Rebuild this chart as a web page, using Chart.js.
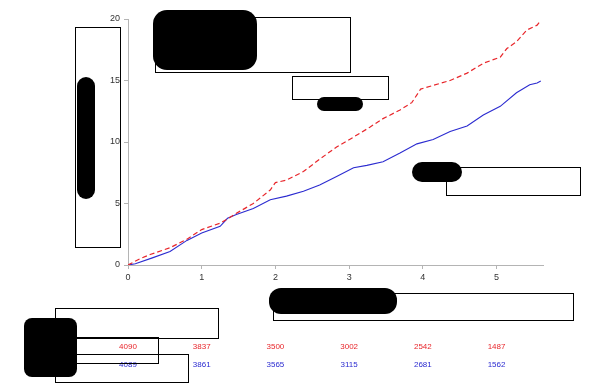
<!DOCTYPE html>
<html>
<head>
<meta charset="utf-8">
<script src="https://cdn.jsdelivr.net/npm/chart.js"></script>
<style>
  html, body { margin: 0; padding: 0; background: #fff; }
  #wrap { width: 609px; height: 390px; position: relative; }
</style>
</head>
<body>
<div id="wrap"><canvas id="chart" width="609" height="390"></canvas></div>
<script>
// == Data ==
const redTime = [0, 0.16, 0.3, 0.57, 0.8, 1.0, 1.25, 1.35, 1.47, 1.7, 1.93, 2.0, 2.15, 2.38, 2.6, 2.83, 3.06, 3.28, 3.46, 3.69, 3.85, 3.97, 4.14, 4.37, 4.6, 4.82, 5.05, 5.14, 5.27, 5.41, 5.55, 5.59];
const redRisk = [0, 0.5, 0.85, 1.4, 2.1, 2.88, 3.4, 3.75, 4.2, 5.0, 6.1, 6.7, 6.9, 7.6, 8.6, 9.6, 10.4, 11.2, 11.9, 12.6, 13.2, 14.3, 14.6, 15.0, 15.6, 16.4, 16.9, 17.6, 18.15, 19.1, 19.5, 19.8];
const blueTime = [0, 0.1, 0.34, 0.57, 0.8, 1.0, 1.25, 1.35, 1.47, 1.7, 1.93, 2.15, 2.38, 2.6, 2.83, 3.06, 3.24, 3.46, 3.69, 3.92, 4.14, 4.37, 4.6, 4.82, 5.05, 5.27, 5.45, 5.55, 5.6];
const blueRisk = [0, 0.1, 0.6, 1.1, 2.0, 2.6, 3.15, 3.8, 4.1, 4.6, 5.3, 5.6, 6.0, 6.5, 7.2, 7.9, 8.1, 8.4, 9.1, 9.85, 10.2, 10.85, 11.3, 12.2, 12.9, 14.0, 14.65, 14.8, 14.95];
const xTicks = [0, 1, 2, 3, 4, 5];
const yTicks = [0, 5, 10, 15, 20];
const redAtRisk = [4090, 3837, 3500, 3002, 2542, 1487];
const blueAtRisk = [4089, 3861, 3565, 3115, 2681, 1562];

// == Colours ==
const RED = "#e8262b";
const BLUE = "#2b2bd0";
const AXIS = "#b4b4b4";

// == Overlay: redaction boxes and blobs ==
const outlineBoxes = [
  [75, 27, 45, 220], [155, 17, 195, 55], [292, 76, 96, 23], [446, 167, 134, 28],
  [273, 293, 300, 27], [55, 308, 163, 30], [60, 337, 98, 26], [55, 354, 133, 28]
];
const blobs = [
  [153, 10, 104, 60, 14], [317, 97, 46, 14, 7], [77, 77, 18, 122, 9],
  [269, 288, 128, 26, 12], [24, 318, 53, 59, 8], [412, 162, 50, 20, 10]
];

const overlayPlugin = {
  id: "overlay",
  afterDraw(chart) {
    const ctx = chart.ctx;
    const x = chart.scales.x;
    ctx.save();
    // numbers at risk
    ctx.font = "8px 'Liberation Sans', Arial, sans-serif";
    ctx.textAlign = "center";
    ctx.textBaseline = "middle";
    xTicks.forEach((t, i) => {
      const px = x.getPixelForValue(t);
      ctx.fillStyle = RED;
      ctx.fillText(redAtRisk[i], px, 347);
      ctx.fillStyle = BLUE;
      ctx.fillText(blueAtRisk[i], px, 365);
    });
    ctx.fillStyle = "#000";
    blobs.forEach(b => {
      ctx.beginPath();
      ctx.roundRect(b[0], b[1], b[2], b[3], b[4]);
      ctx.fill();
    });
    ctx.strokeStyle = "#000";
    ctx.lineWidth = 1;
    outlineBoxes.forEach(r => {
      ctx.strokeRect(r[0] + 0.5, r[1] + 0.5, r[2], r[3]);
    });
    ctx.restore();
  }
};

// == Chart ==
const ctx = document.getElementById("chart").getContext("2d");
new Chart(ctx, {
  type: "line",
  data: {
    datasets: [
      {
        data: redTime.map((t, i) => ({ x: t, y: redRisk[i] })),
        borderColor: RED,
        borderWidth: 1.2,
        borderDash: [5, 3],
        pointRadius: 0,
        tension: 0
      },
      {
        data: blueTime.map((t, i) => ({ x: t, y: blueRisk[i] })),
        borderColor: BLUE,
        borderWidth: 1.1,
        pointRadius: 0,
        tension: 0
      }
    ]
  },
  options: {
    responsive: false,
    animation: false,
    layout: { padding: { left: 0, top: 19, right: 66, bottom: 105 } },
    plugins: { legend: { display: false }, tooltip: { enabled: false } },
    scales: {
      x: {
        type: "linear",
        min: 0,
        max: 5.63,
        afterBuildTicks: s => { s.ticks = xTicks.map(v => ({ value: v })); },
        afterFit: s => { s.height = 20; },
        border: { color: AXIS, width: 1 },
        grid: { drawOnChartArea: false, color: AXIS, tickLength: 4 },
        ticks: { color: "#333", font: { size: 9, family: "'Liberation Sans', Arial" }, padding: 3, maxRotation: 0 }
      },
      y: {
        min: 0,
        max: 20,
        afterBuildTicks: s => { s.ticks = yTicks.map(v => ({ value: v })); },
        afterFit: s => { s.width = 128; },
        border: { color: AXIS, width: 1 },
        grid: { drawOnChartArea: false, color: AXIS, tickLength: 4 },
        ticks: { color: "#333", font: { size: 9, family: "'Liberation Sans', Arial" }, padding: 4 }
      }
    }
  },
  plugins: [overlayPlugin]
});
</script>
</body>
</html>
